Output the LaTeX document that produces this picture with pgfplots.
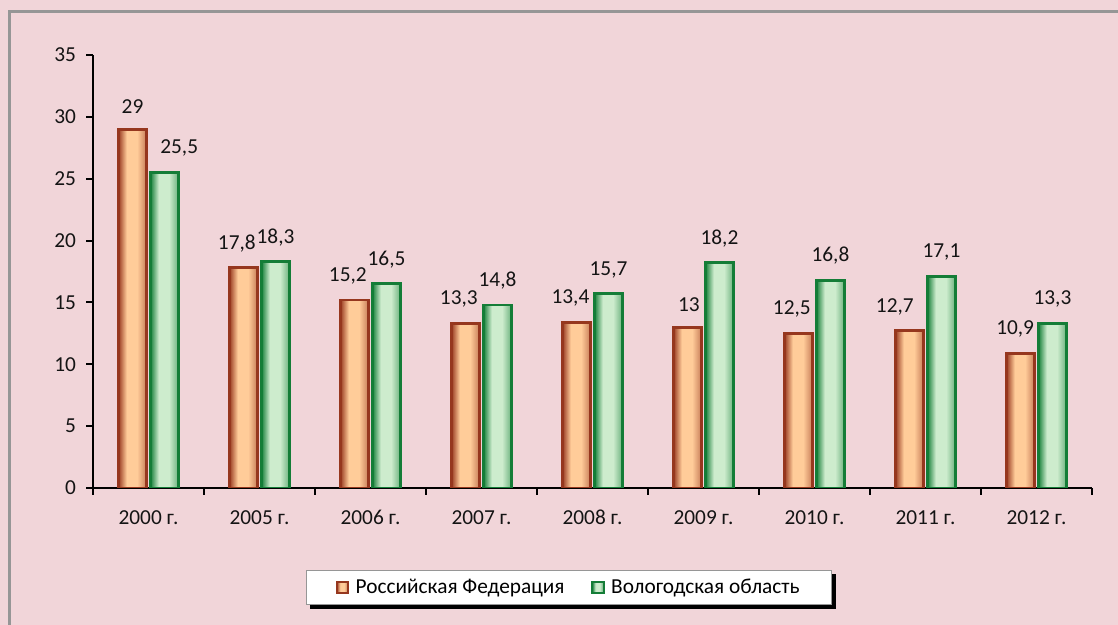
\documentclass[border=0pt]{standalone}
\usepackage{pgfplots}
\pgfplotsset{compat=1.18}
\usepackage{fontspec}
\setmainfont{Carlito}
\definecolor{bg}{RGB}{241,213,217}
\definecolor{framegray}{RGB}{150,150,150}
\definecolor{rfdark}{RGB}{150,55,30}
\definecolor{rflight}{RGB}{255,204,153}
\definecolor{vodark}{RGB}{20,125,55}
\definecolor{volight}{RGB}{205,236,205}
\pgfdeclarehorizontalshading{rfshade}{100bp}{color(0bp)=(rfdark); color(25bp)=(rfdark); color(40bp)=(rflight); color(58bp)=(rflight); color(75bp)=(rfdark!55!rflight); color(100bp)=(rfdark!55!rflight)}
\pgfdeclarehorizontalshading{voshade}{100bp}{color(0bp)=(vodark); color(25bp)=(vodark); color(40bp)=(volight); color(58bp)=(volight); color(75bp)=(vodark!55!volight); color(100bp)=(vodark!55!volight)}
\pgfdeclarelayer{bglayer}
\pgfdeclarelayer{shadowlayer}
\pgfsetlayers{bglayer,shadowlayer,main}
\pgfplotsset{
  rfbar/.style={ybar, bar width=21.5pt, bar shift=-12pt, draw=rfdark, line width=2.1pt, shade, shading=rfshade,
    every node near coord/.append style={xshift=-12pt}},
  vobar/.style={ybar, bar width=21.5pt, bar shift=12pt, draw=vodark, line width=2.1pt, shade, shading=voshade,
    every node near coord/.append style={xshift=12pt}},
  lblx/.style={every node near coord/.append style={xshift=#1}},
  rflegend/.style={legend image code/.code={\path[draw=rfdark, line width=1.5pt, shade, shading=rfshade] (0pt,-4.2pt) rectangle (8.5pt,4.2pt);}},
  volegend/.style={legend image code/.code={\path[draw=vodark, line width=1.5pt, shade, shading=voshade] (0pt,-4.2pt) rectangle (8.5pt,4.2pt);}},
}
\begin{document}
\begin{tikzpicture}
\fontsize{16pt}{19pt}\selectfont
\path[use as bounding box] (0,0) rectangle (838.5pt,468.75pt);
\begin{pgfonlayer}{bglayer}
\fill[bg] (0,0) rectangle (838.5pt,468.75pt);
\end{pgfonlayer}
\begin{scope}
\clip (0,0) rectangle (838.5pt,468.75pt);
\draw[line width=2.25pt, color=framegray] (6.75pt,-20pt) -- (6.75pt,460.1pt) -- (860pt,460.1pt);
\end{scope}
\begin{axis}[
  at={(69.75pt,102.75pt)}, anchor=south west,
  scale only axis, width=749.25pt, height=324.75pt,
  xmin=-0.5, xmax=8.5, ymin=0, ymax=35,
  axis x line*=bottom, axis y line*=left,
  axis line style={-, line width=1.5pt, black},
  ytick={0,5,...,35},
  xtick={0,...,8},
  xticklabels={2000 г.,2005 г.,2006 г.,2007 г.,2008 г.,2009 г.,2010 г.,2011 г.,2012 г.},
  major x tick style={draw=none},
  minor xtick={-0.5,0.5,...,8.5},
  minor x tick style={line width=1.5pt, black},
  major y tick style={line width=1.5pt, black},
  tick align=outside,
  major tick length=5.25pt, minor tick length=5.25pt,
  /pgf/number format/assume math mode=true,
  /pgf/number format/use comma,
  /pgf/number format/1000 sep={},
  tick label style={font=\fontsize{16pt}{19pt}\selectfont, text=black!92},
  xticklabel style={yshift=-6pt},
  yticklabel style={xshift=-2pt},
  nodes near coords,
  every node near coord/.append style={font=\fontsize{16pt}{19pt}\selectfont, text=black!92, yshift=5.5pt},
  legend style={name=lgd, at={(0.4765,-0.2298)}, anchor=center, draw=framegray, line width=1.2pt, fill=white,
    inner xsep=22pt, inner ysep=4pt,
    font=\fontsize{16pt}{19pt}\selectfont},
  legend columns=2,
  legend style={/tikz/every even column/.append style={column sep=18pt},
                /tikz/every odd column/.append style={column sep=3pt}},
]
\addplot[rfbar, forget plot] coordinates {(0,29)};
\addplot[rfbar, forget plot, lblx=-5pt] coordinates {(1,17.8)};
\addplot[rfbar, forget plot, lblx=-5pt] coordinates {(2,15.2)};
\addplot[rfbar, forget plot, lblx=-5pt] coordinates {(3,13.3)};
\addplot[rfbar, forget plot, lblx=-4.5pt] coordinates {(4,13.4)};
\addplot[rfbar, forget plot, lblx=1pt] coordinates {(5,13)};
\addplot[rfbar, forget plot, lblx=-5pt] coordinates {(6,12.5)};
\addplot[rfbar, forget plot, lblx=-11pt] coordinates {(7,12.7)};
\addplot[rfbar, forget plot, lblx=-4pt] coordinates {(8,10.9)};
\addplot[vobar, forget plot, lblx=11pt] coordinates {(0,25.5)};
\addplot[vobar, forget plot] coordinates {(1,18.3)};
\addplot[vobar, forget plot] coordinates {(2,16.5)};
\addplot[vobar, forget plot] coordinates {(3,14.8)};
\addplot[vobar, forget plot] coordinates {(4,15.7)};
\addplot[vobar, forget plot] coordinates {(5,18.2)};
\addplot[vobar, forget plot] coordinates {(6,16.8)};
\addplot[vobar, forget plot] coordinates {(7,17.1)};
\addplot[vobar, forget plot] coordinates {(8,13.3)};
\addlegendimage{rflegend}
\addlegendentry{Российская Федерация}
\addlegendimage{volegend}
\addlegendentry{Вологодская область}
\end{axis}
\begin{pgfonlayer}{shadowlayer}
\fill[black] ([shift={(3pt,-3pt)}]lgd.south west) rectangle ([shift={(3pt,-3pt)}]lgd.north east);
\end{pgfonlayer}
\end{tikzpicture}
\end{document}
